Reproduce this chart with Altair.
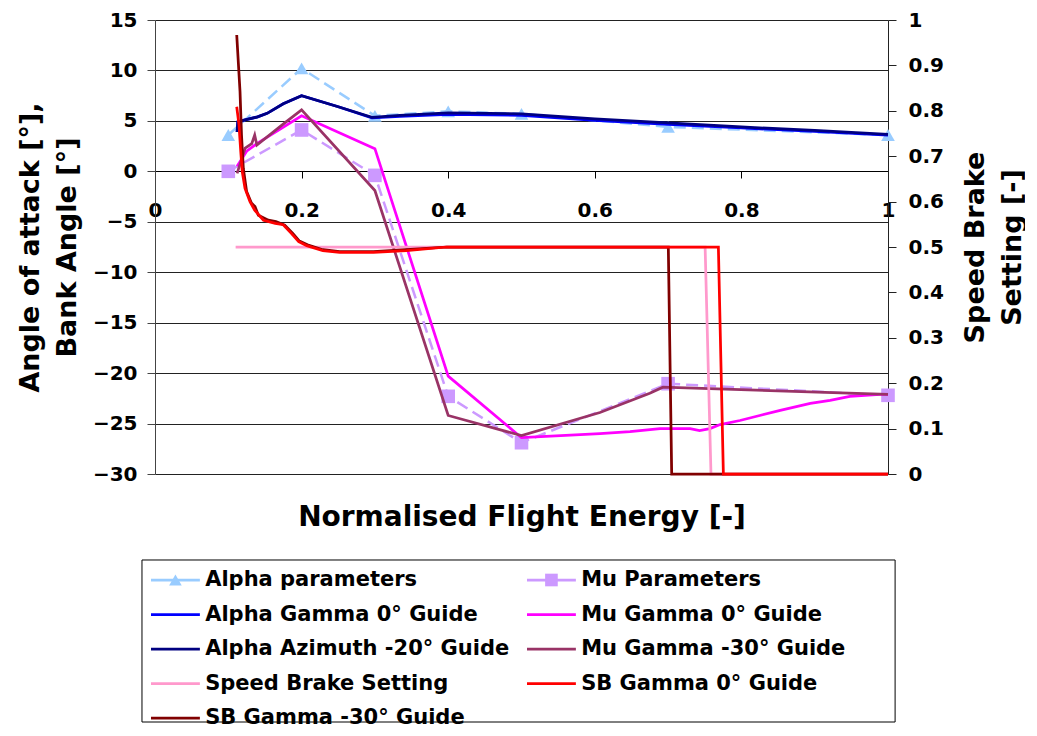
import altair as alt
import pandas as pd

FONT = "DejaVu Sans"

# ---------------- data ----------------
param_x = [0.1, 0.2, 0.3, 0.4, 0.5, 0.7, 1.0]
alpha_params = [3.6, 10.2, 5.5, 5.95, 5.7, 4.4, 3.6]
mu_params = [0.0, 4.1, -0.4, -22.3, -26.9, -21.05, -22.2]

alpha_az_x = [0.112, 0.113, 0.123, 0.14, 0.153, 0.175, 0.2, 0.25, 0.296, 0.334, 0.4, 0.5, 0.6, 0.7, 0.8, 0.9, 1.0]
alpha_az_y = [3.9, 4.9, 5.1, 5.4, 5.75, 6.7, 7.5, 6.4, 5.35, 5.55, 5.8, 5.7, 5.2, 4.8, 4.4, 4.05, 3.67]

alpha_g0_x = [0.112, 0.113, 0.123, 0.14, 0.153, 0.175, 0.2, 0.25, 0.296, 0.334, 0.4, 0.5, 0.6, 0.7, 0.8, 0.9, 1.0]
alpha_g0_y = [3.9, 4.9, 5.1, 5.4, 5.75, 6.7, 7.5, 6.4, 5.3, 5.45, 5.65, 5.55, 5.05, 4.65, 4.3, 3.95, 3.6]

mu_g0_x = [0.112, 0.125, 0.14, 0.2, 0.3, 0.4, 0.5, 0.607, 0.648, 0.689, 0.73, 0.743, 0.757,
           0.771, 0.798, 0.825, 0.853, 0.894, 0.921, 0.948, 0.989, 1.0]
mu_g0_y = [0.5, 2.0, 2.8, 5.5, 2.25, -20.3, -26.4, -26.0, -25.8, -25.5, -25.5, -25.7, -25.5,
           -25.1, -24.7, -24.2, -23.7, -23.0, -22.7, -22.3, -22.1, -22.1]

mu_g30_x = [0.112, 0.123, 0.132, 0.136, 0.139, 0.177, 0.2, 0.3, 0.4, 0.5, 0.607, 0.675, 0.693, 1.0]
mu_g30_y = [-0.2, 2.3, 2.75, 3.6, 2.6, 4.8, 6.1, -1.9, -24.2, -26.2, -23.9, -22.0, -21.4, -22.1]

sb_x = [0.11, 0.3, 0.5, 0.7505, 0.7585, 1.0]
sb_y = [0.5, 0.5, 0.5, 0.5, 0.0, 0.0]

sb_g0_x = [0.1115, 0.1146, 0.117, 0.119, 0.1228, 0.1296, 0.136, 0.148, 0.164, 0.175, 0.186, 0.196,
           0.207, 0.229, 0.252, 0.298, 0.343, 0.398, 0.5, 0.6, 0.7, 0.7686, 0.7754, 0.9, 1.0]
sb_g0_y = [0.809, 0.769, 0.71, 0.666, 0.629, 0.6, 0.581, 0.559, 0.552, 0.549, 0.53, 0.512,
           0.503, 0.492, 0.488, 0.488, 0.492, 0.5, 0.5, 0.5, 0.5, 0.5, 0.0, 0.0, 0.0]

sb_g30_x = [0.1115, 0.116, 0.118, 0.1205, 0.125, 0.1315, 0.1364, 0.141, 0.1546, 0.165, 0.177, 0.188,
            0.197, 0.208, 0.229, 0.252, 0.298, 0.343, 0.398, 0.5, 0.6, 0.7003, 0.7049, 0.9, 1.0]
sb_g30_y = [0.967, 0.842, 0.747, 0.673, 0.622, 0.597, 0.589, 0.570, 0.559, 0.556, 0.548, 0.53,
            0.513, 0.505, 0.494, 0.49, 0.49, 0.494, 0.5, 0.5, 0.5, 0.5, 0.0, 0.0, 0.0]

x_ticks = [0, 0.2, 0.4, 0.6, 0.8, 1]
left_ticks = [-30, -25, -20, -15, -10, -5, 0, 5, 10, 15]
right_ticks = [0, 0.1, 0.2, 0.3, 0.4, 0.5, 0.6, 0.7, 0.8, 0.9, 1]

legend_labels = ["Alpha parameters", "Mu Parameters",
                 "Alpha Gamma 0° Guide", "Mu Gamma 0° Guide",
                 "Alpha Azimuth -20° Guide", "Mu Gamma -30° Guide",
                 "Speed Brake Setting", "SB Gamma 0° Guide",
                 "SB Gamma -30° Guide"]
legend_colors = ["#99CCFF", "#CC99FF", "#0000FF", "#FF00FF", "#000080", "#993366",
                 "#FF99CC", "#FF0000", "#800000"]
legend_markers = ["triangle-up", "square", "", "", "", "", "", "", ""]
legend_col = [0, 1, 0, 1, 0, 1, 0, 1, 0]
legend_row = [0, 0, 1, 1, 2, 2, 3, 3, 4]

# ---------------- encodings ----------------
def xenc():
    return alt.X("x:Q",
                 scale=alt.Scale(domain=[0, 1], nice=False, zero=False),
                 axis=alt.Axis(values=x_ticks, format="~g", title="Normalised Flight Energy [-]",
                               offset=-303, grid=False, labelFlush=False, labelOverlap=False,
                               domainColor="black", tickColor="black", tickSize=7,
                               labelPadding=22, titleY=354, titleBaseline="alphabetic",
                               titleFontSize=28))


def yleft():
    return alt.Y("y:Q",
                 scale=alt.Scale(domain=[-30, 15], nice=False, zero=False),
                 axis=alt.Axis(orient="left", values=left_ticks,
                               title=["Angle of attack [°],", "Bank Angle [°]"],
                               grid=True, gridColor="#222", gridWidth=1,
                               domainColor="#444", tickColor="#444", tickSize=8,
                               labelPadding=10, titleAngle=270, titleX=-125,
                               titleBaseline="middle", titleLineHeight=37, titleFontSize=27))


def yright():
    return alt.Y("y:Q",
                 scale=alt.Scale(domain=[0, 1], nice=False, zero=False),
                 axis=alt.Axis(orient="right", values=right_ticks, format="~g",
                               title=["Speed Brake", "Setting [-]"], grid=False,
                               domainColor="#222", tickColor="#222", tickSize=8,
                               labelPadding=12, titleAngle=270, titleX=87,
                               titleBaseline="middle", titleLineHeight=37, titleFontSize=27))


def line(xs, ys, color, yfun, width=2.75, dash=None):
    d = pd.DataFrame({"x": xs, "y": ys})
    if dash:
        m = alt.Chart(d).mark_line(color=color, strokeWidth=width, strokeDash=dash)
    else:
        m = alt.Chart(d).mark_line(color=color, strokeWidth=width)
    return m.encode(x=xenc(), y=yfun())


def pts(xs, ys, color, shape, yfun):
    d = pd.DataFrame({"x": xs, "y": ys})
    return alt.Chart(d).mark_point(shape=shape, filled=True, size=185, color=color,
                                   opacity=1).encode(x=xenc(), y=yfun())


left = alt.layer(
    line(param_x, alpha_params, "#99CCFF", yleft, 2.5, [12, 6]),
    pts(param_x, alpha_params, "#99CCFF", "triangle-up", yleft),
    line(param_x, mu_params, "#CC99FF", yleft, 2.5, [12, 6]),
    pts(param_x, mu_params, "#CC99FF", "square", yleft),
    line(alpha_g0_x, alpha_g0_y, "#0000FF", yleft),
    line(alpha_az_x, alpha_az_y, "#000080", yleft),
    line(mu_g0_x, mu_g0_y, "#FF00FF", yleft),
    line(mu_g30_x, mu_g30_y, "#993366", yleft),
)

right = alt.layer(
    line(sb_x, sb_y, "#FF99CC", yright),
    line(sb_g30_x, sb_g30_y, "#800000", yright),
    line(sb_g0_x, sb_g0_y, "#FF0000", yright),
)

inner = alt.layer(left, right).resolve_scale(y="independent")

# ---------------- legend ----------------
leg = pd.DataFrame({"label": legend_labels, "color": legend_colors, "marker": legend_markers,
                    "col": legend_col, "row": legend_row})
lx = alt.Scale(domain=[0, 1], range=[-4, 372], nice=False, zero=False)
ly = alt.Scale(domain=[0, 4], range=[560, 698], nice=False, zero=False)

box = alt.Chart(pd.DataFrame({"x0": [-0.024], "x1": [1.979], "y0": [-0.58], "y1": [4.116]})).mark_rect(
    filled=False, stroke="black", strokeWidth=1).encode(
    x=alt.X("x0:Q", scale=lx, axis=None), x2="x1:Q",
    y=alt.Y("y0:Q", scale=ly, axis=None), y2="y1:Q")

leg_rules = alt.Chart(leg).transform_calculate(xe="datum.col + 0.13").mark_rule(strokeWidth=2.75).encode(
    x=alt.X("col:Q", scale=lx, axis=None), x2="xe:Q",
    y=alt.Y("row:Q", scale=ly, axis=None),
    color=alt.Color("color:N", scale=None))

leg_pts = alt.Chart(leg).transform_filter("datum.marker != ''").transform_calculate(
    xm="datum.col + 0.065").mark_point(filled=True, size=160, opacity=1).encode(
    x=alt.X("xm:Q", scale=lx, axis=None),
    y=alt.Y("row:Q", scale=ly, axis=None),
    shape=alt.Shape("marker:N", scale=None),
    color=alt.Color("color:N", scale=None))

leg_text = alt.Chart(leg).transform_calculate(xt="datum.col + 0.144").mark_text(
    align="left", baseline="middle", font=FONT, fontSize=21, fontWeight="bold", color="black").encode(
    x=alt.X("xt:Q", scale=lx, axis=None),
    y=alt.Y("row:Q", scale=ly, axis=None),
    text="label:N")

legend = alt.layer(box, leg_rules, leg_pts, leg_text)

chart = alt.layer(inner, legend).resolve_scale(x="independent", y="independent").properties(
    width=733, height=454, background="white",
    padding={"left": 8, "top": 2, "right": 0, "bottom": 0}
).configure_view(stroke=None).configure_axis(
    labelFont=FONT, labelFontSize=20, labelFontWeight="bold", labelColor="black",
    titleFont=FONT, titleFontWeight="bold", titleColor="black",
    domainWidth=1, tickWidth=1)

chart.save("out.html", embed_options={"renderer": "svg", "actions": False})
